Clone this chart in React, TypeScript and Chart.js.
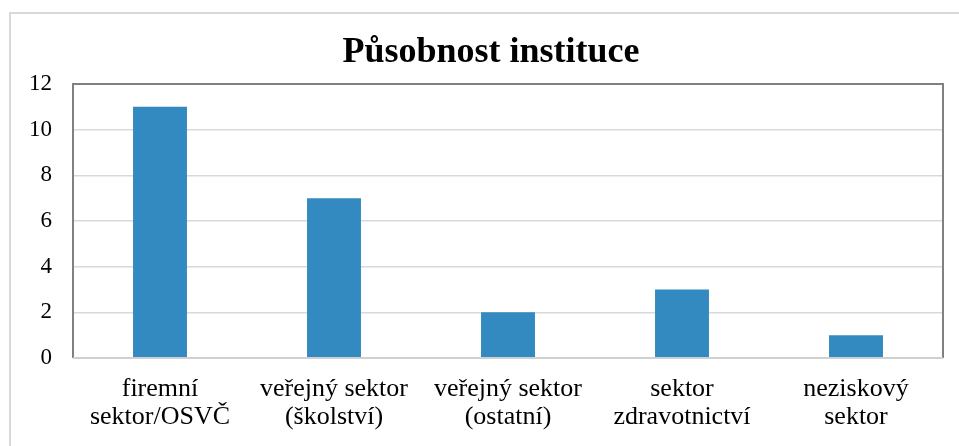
import React, { useEffect, useRef } from "react";
import { Chart, registerables } from "chart.js";

Chart.register(...registerables);

const TITLE = "Působnost instituce";
const categories: string[][] = [
  ["firemní", "sektor/OSVČ"],
  ["veřejný sektor", "(školství)"],
  ["veřejný sektor", "(ostatní)"],
  ["sektor", "zdravotnictví"],
  ["neziskový", "sektor"],
];
const values: number[] = [11, 7, 2, 3, 1];
const yMin = 0;
const yMax = 12;
const yStep = 2;

const FONT = "'Liberation Serif', 'Times New Roman', serif";

const framePlugin = {
  id: "frame",
  beforeDraw(chart: any) {
    const { ctx } = chart;
    ctx.save();
    ctx.strokeStyle = "#d9d9d9";
    ctx.lineWidth = 2;
    ctx.strokeRect(10, 13, 1200, 1200);
    ctx.fillStyle = "#000";
    ctx.font = `bold 36px ${FONT}`;
    ctx.textAlign = "center";
    ctx.textBaseline = "alphabetic";
    ctx.fillText(TITLE, 491, 62);
    ctx.restore();
  },
  afterDraw(chart: any) {
    const { ctx, chartArea: a } = chart;
    ctx.save();
    ctx.strokeStyle = "#808080";
    ctx.lineWidth = 2;
    ctx.beginPath();
    ctx.moveTo(a.left, a.bottom);
    ctx.lineTo(a.left, a.top);
    ctx.lineTo(a.right, a.top);
    ctx.lineTo(a.right, a.bottom);
    ctx.stroke();
    ctx.strokeStyle = "#d0d0d0";
    ctx.beginPath();
    ctx.moveTo(a.left, a.bottom);
    ctx.lineTo(a.right, a.bottom);
    ctx.stroke();
    ctx.restore();
  },
};

export default function App() {
  const ref = useRef<HTMLCanvasElement | null>(null);
  useEffect(() => {
    if (!ref.current) return;
    const chart = new Chart(ref.current, {
      type: "bar",
      data: {
        labels: categories,
        datasets: [
          {
            data: values,
            backgroundColor: "#338ac0",
            borderWidth: 0,
            barPercentage: 0.31,
            categoryPercentage: 1,
          },
        ],
      },
      options: {
        animation: false,
        responsive: false,
        maintainAspectRatio: false,
        layout: { padding: { top: 84, right: 16, left: 0, bottom: 0 } },
        plugins: { legend: { display: false }, tooltip: { enabled: false }, title: { display: false } },
        scales: {
          x: {
            grid: { display: false, drawTicks: false },
            border: { display: false },
            ticks: {
              color: "#000",
              font: { family: FONT, size: 26, lineHeight: 1.05 },
              padding: 18,
              maxRotation: 0,
              autoSkip: false,
            },
            afterFit(scale: any) {
              scale.height = 88;
            },
          },
          y: {
            min: yMin,
            max: yMax,
            grid: { color: "#d9d9d9", lineWidth: 1.5, drawTicks: false },
            border: { display: false },
            ticks: {
              stepSize: yStep,
              color: "#000",
              font: { family: FONT, size: 23 },
              padding: 21,
            },
            afterFit(scale: any) {
              scale.width = 73;
            },
          },
        },
      },
      plugins: [framePlugin],
    });
    return () => chart.destroy();
  }, []);
  return (
    <div style={{ position: "fixed", left: 0, top: 0, width: 959, height: 446, background: "#fff" }}>
      <canvas ref={ref} width={959} height={446} style={{ display: "block" }} />
    </div>
  );
}
